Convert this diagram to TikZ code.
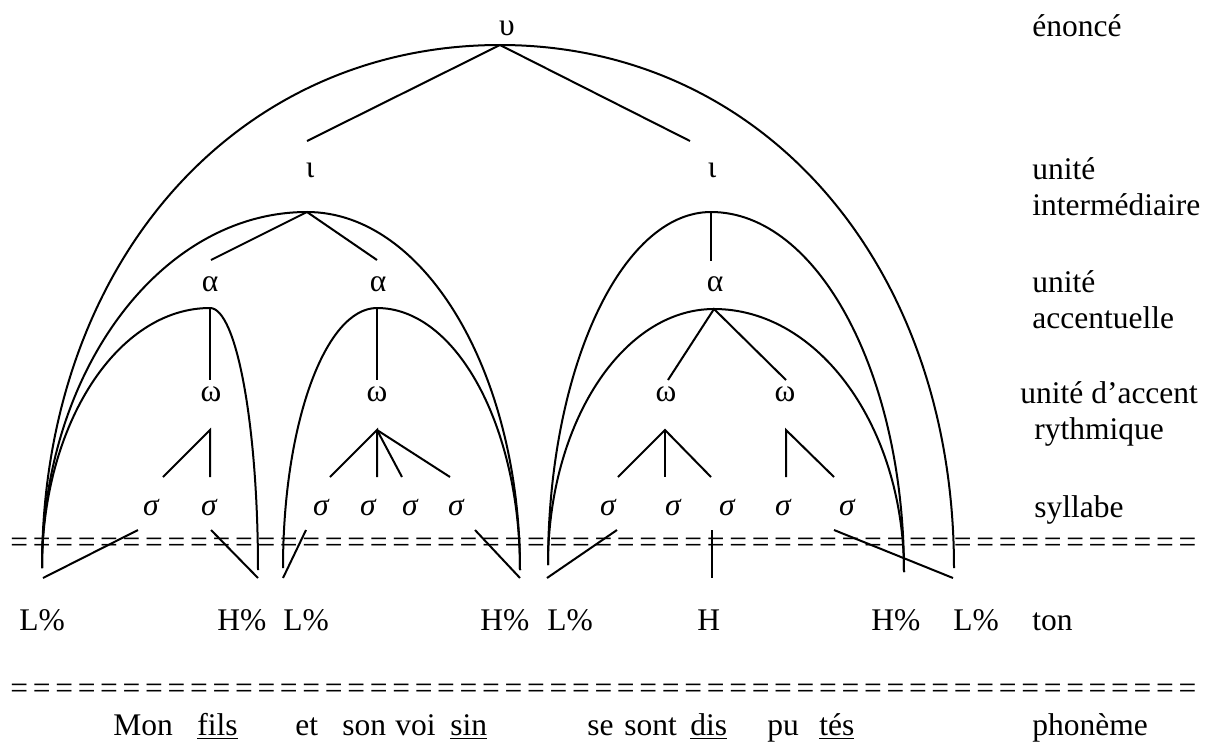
\documentclass[tikz,border=0pt]{standalone}
\usepackage{fontspec}
\setmainfont{Liberation Serif}
\usetikzlibrary{calc}
\newcommand{\archthrough}[4]{(#1) .. controls ($(#1)!#4!(#1|-#2)$) and ($(#2)!#4!(#1|-#2)$) .. (#2) .. controls ($(#2)!#4!(#3|-#2)$) and ($(#3)!#4!(#3|-#2)$) .. (#3)}
\newcommand{\eqrow}{\foreach \k in {1,...,53}{=\hspace{2.35pt}}}
\begin{document}
\begin{tikzpicture}[x=0.5pt,y=-0.5pt,
  font=\fontsize{15.75}{20}\selectfont,
  txt/.style={inner sep=0pt,anchor=base west},
  gk/.style={inner sep=0pt,anchor=center},
  sg/.style={inner sep=0pt,anchor=center,font=\fontsize{15.75}{20}\selectfont\itshape},
  link/.style={line width=1pt},
  arch/.style={line width=1pt}]
\useasboundingbox (0,0) rectangle (1212,745);
% ---- greek nodes
\node[gk] (u) at (507,28) {υ};
\node[gk] (i1) at (310,170) {ι};
\node[gk] (i2) at (712,170) {ι};
\node[gk] (a1) at (210,284) {α};
\node[gk] (a2) at (378,284) {α};
\node[gk] (a3) at (715,284) {α};
\node[gk] (w1) at (211,394) {ω};
\node[gk] (w2) at (377,394) {ω};
\node[gk] (w3) at (666,394) {ω};
\node[gk] (w4) at (785,394) {ω};
\node[sg] (s1) at (151,508) {σ};
\node[sg] (s2) at (209,508) {σ};
\node[sg] (s3) at (321,508) {σ};
\node[sg] (s4) at (368,508) {σ};
\node[sg] (s5) at (410,508) {σ};
\node[sg] (s6) at (456,508) {σ};
\node[sg] (s7) at (608,508) {σ};
\node[sg] (s8) at (673,508) {σ};
\node[sg] (s9) at (727,508) {σ};
\node[sg] (s10) at (783,508) {σ};
\node[sg] (s11) at (847,508) {σ};
% ---- tones
\node[txt] (t1) at (19,630) {L\%};
\node[txt] (t2) at (217,630) {H\%};
\node[txt] (t3) at (283,630) {L\%};
\node[txt] (t4) at (480,630) {H\%};
\node[txt] (t5) at (547,630) {L\%};
\node[txt] (t6) at (697,630) {H};
\node[txt] (t7) at (871,630) {H\%};
\node[txt] (t8) at (953,630) {L\%};
% ---- right labels
\node[txt] (l1) at (1032,36) {énoncé};
\node[txt] (l2) at (1032,179) {unité};
\node[txt] (l2b) at (1032,215) {intermédiaire};
\node[txt] (l3) at (1032,292) {unité};
\node[txt] (l3b) at (1032,328) {accentuelle};
\node[txt] (l4) at (1020,403) {unité d’accent};
\node[txt] (l4b) at (1034,439) {rythmique};
\node[txt] (l5) at (1034,517) {syllabe};
\node[txt] (l6) at (1032,630) {ton};
\node[txt] (l7) at (1032,735) {phonème};
% ---- phoneme row
\node[txt] (p1) at (113,735) {Mon};
\node[txt] (p2) at (197,735) {\underline{fils}};
\node[txt] (p3) at (295,735) {et};
\node[txt] (p4) at (342,735) {son};
\node[txt] (p5) at (395,735) {voi};
\node[txt] (p6) at (450,735) {\underline{sin}};
\node[txt] (p7) at (587,735) {se};
\node[txt] (p8) at (624,735) {sont};
\node[txt] (p9) at (690,735) {\underline{dis}};
\node[txt] (p10) at (767,735) {pu};
\node[txt] (p11) at (819,735) {\underline{tés}};
% ---- separator rows
\node[txt] (eqA) at (10,552) {\eqrow};
\node[txt] (eqB) at (10,698) {\eqrow};
% ---- coordinates
\coordinate (uT) at (500,45);
\coordinate (uL) at (307,141);
\coordinate (uR) at (690,141);
\coordinate (i1T) at (307,212);
\coordinate (i1a) at (211,260);
\coordinate (i1b) at (377,260);
\coordinate (i2T) at (711,212);
\coordinate (i2a) at (711,261);
\coordinate (a1T) at (210,308);
\coordinate (a1b) at (210,380);
\coordinate (a2T) at (377,308);
\coordinate (a2b) at (377,380);
\coordinate (a3T) at (714,309);
\coordinate (a3a) at (668,380);
\coordinate (a3b) at (786,380);
\coordinate (w1T) at (210,430);
\coordinate (w1a) at (163,477);
\coordinate (w1b) at (210,477);
\coordinate (w2T) at (377,430);
\coordinate (w2a) at (330,477);
\coordinate (w2b) at (377,477);
\coordinate (w2c) at (402,477);
\coordinate (w2d) at (450,477);
\coordinate (w3T) at (665,430);
\coordinate (w3a) at (618,477);
\coordinate (w3b) at (665,477);
\coordinate (w3c) at (711,477);
\coordinate (w4T) at (786,430);
\coordinate (w4a) at (786,477);
\coordinate (w4b) at (834,477);
% tone links
\coordinate (s1x) at (138,530); \coordinate (t1x) at (43,578);
\coordinate (s2x) at (211,530); \coordinate (t2x) at (258,578);
\coordinate (s3x) at (306,530); \coordinate (t3x) at (283,578);
\coordinate (s6x) at (475,530); \coordinate (t4x) at (520,578);
\coordinate (s7x) at (617,530); \coordinate (t5x) at (547,578);
\coordinate (s9x) at (712,530); \coordinate (t6x) at (712,578);
\coordinate (s11x) at (834,530); \coordinate (t8x) at (953,578);
% arch ends
\coordinate (eA) at (42,568);
\coordinate (eB) at (258,570);
\coordinate (eC) at (283,568);
\coordinate (eD) at (520,570);
\coordinate (eE) at (548,565);
\coordinate (eF) at (904,572);
\coordinate (eG) at (954,568);
% ---- arches
\draw[arch] \archthrough{eA}{uT}{eG}{0.58};
\draw[arch] \archthrough{eA}{i1T}{eD}{0.552};
\draw[arch] \archthrough{eA}{a1T}{eB}{0.552};
\draw[arch] \archthrough{eC}{a2T}{eD}{0.552};
\draw[arch] \archthrough{eE}{i2T}{eF}{0.552};
\draw[arch] \archthrough{eE}{a3T}{eF}{0.552};
% ---- tree links
\draw[link] (uL) -- (uT) -- (uR);
\draw[link] (i1a) -- (i1T) -- (i1b);
\draw[link] (i2T) -- (i2a);
\draw[link] (a1T) -- (a1b);
\draw[link] (a2T) -- (a2b);
\draw[link] (a3a) -- (a3T) -- (a3b);
\draw[link] (w1a) -- (w1T) -- (w1b);
\draw[link] (w2a) -- (w2T) -- (w2b);
\draw[link] (w2T) -- (w2c);
\draw[link] (w2T) -- (w2d);
\draw[link] (w3a) -- (w3T) -- (w3c);
\draw[link] (w3T) -- (w3b);
\draw[link] (w4a) -- (w4T) -- (w4b);
\draw[link] (s1x) -- (t1x);
\draw[link] (s2x) -- (t2x);
\draw[link] (s3x) -- (t3x);
\draw[link] (s6x) -- (t4x);
\draw[link] (s7x) -- (t5x);
\draw[link] (s9x) -- (t6x);
\draw[link] (s11x) -- (t8x);
\end{tikzpicture}
\end{document}
